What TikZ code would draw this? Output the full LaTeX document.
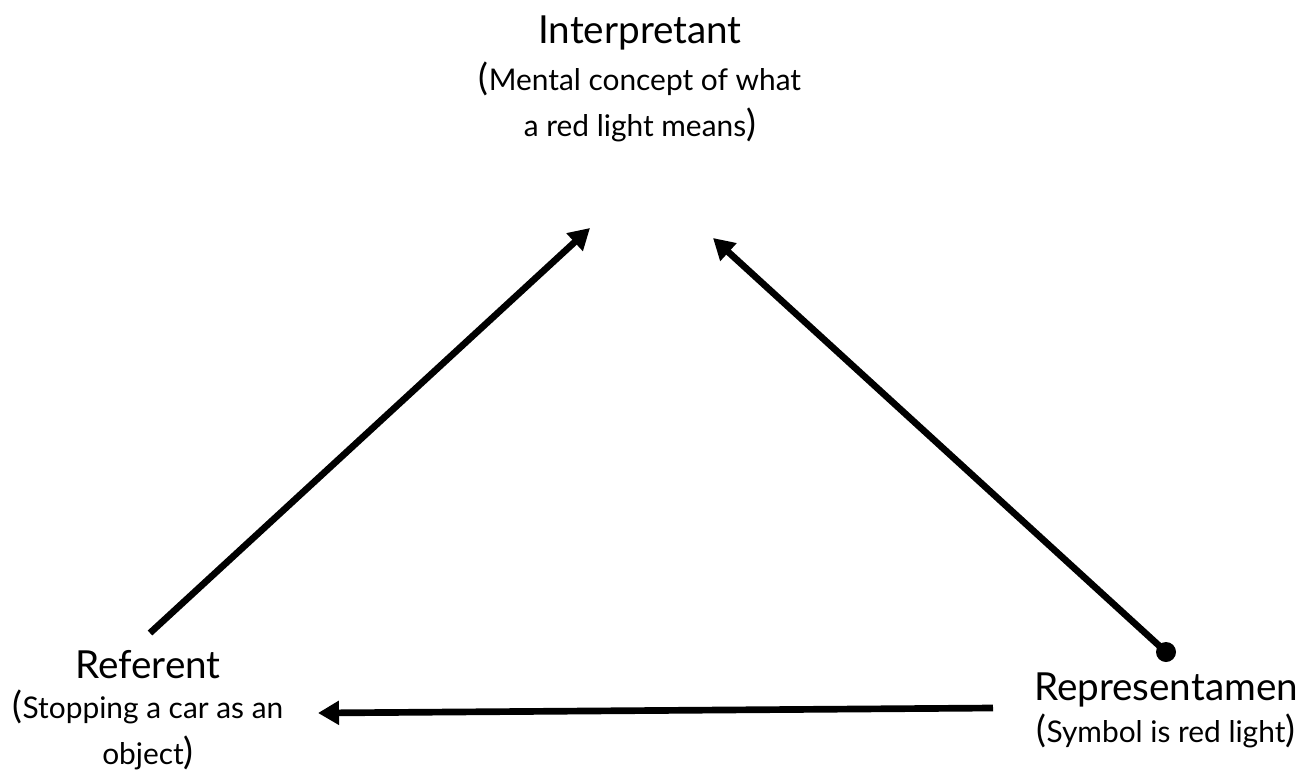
\documentclass[tikz,border=0pt]{standalone}
\usepackage{fontspec}
\setmainfont{Lato}
\usetikzlibrary{arrows.meta}
\newcommand{\subtext}{\fontsize{17}{27.5}\selectfont}
\newcommand{\bigparen}[1]{{\fontsize{21}{27.5}\selectfont#1}}

\begin{document}
\begin{tikzpicture}[x=0.02cm, y=-0.02cm,
    every node/.style={inner sep=0pt, align=center, font=\fontsize{22}{26}\selectfont},
    link/.style={line width=3.8pt, -{Triangle[length=0.42cm, width=0.46cm]}}]
    \useasboundingbox (0,0) rectangle (1303,778);

    % the three corners of the triad
    \node[anchor=north] (interp) at (640,15) {Interpretant\\[1pt]\subtext \bigparen{(}Mental concept of what\\\subtext a red light means\bigparen{)}};
    \node[anchor=north] (ref) at (148,650) {Referent\\[-3pt]\subtext \bigparen{(}Stopping a car as an\\\subtext object\bigparen{)}};
    \node[anchor=north] (rep) at (1166,672) {Representamen\\[-2pt]\subtext \bigparen{(}Symbol is red light\bigparen{)}};

    % arrow ends
    \coordinate (refTop) at (150,633);
    \coordinate (interpL) at (590,228);
    \coordinate (interpR) at (713,238);
    \coordinate (repDot) at (1166,652);
    \coordinate (repLeft) at (993,708);
    \coordinate (refRight) at (318,713);

    \draw[link] (refTop) -- (interpL);
    \draw[link] (repDot) -- (interpR);
    \fill (repDot) circle (10);
    \draw[link] (repLeft) -- (refRight);
\end{tikzpicture}
\end{document}
